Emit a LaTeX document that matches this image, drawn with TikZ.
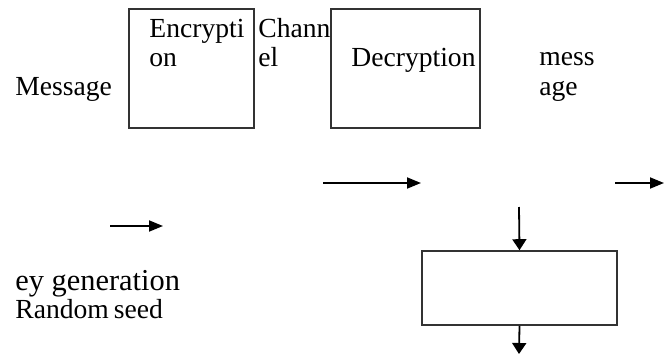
\documentclass[tikz,border=0pt]{standalone}
\usepackage{fontspec}
\setmainfont{Liberation Serif}
\usetikzlibrary{arrows.meta}
\begin{document}
\begin{tikzpicture}[x=0.5pt,y=-0.5pt,
  txt/.style={anchor=base west,inner sep=0pt,font=\fontsize{13.8}{15}\selectfont},
  blk/.style={draw=black!80,line width=0.8pt,inner sep=0pt},
  arr/.style={line width=0.9pt,-{Triangle[length=7pt,width=5.5pt]}},
  varr/.style={line width=0.9pt,-{Triangle[length=5.5pt,width=7pt]}}]
\useasboundingbox (0,0) rectangle (669,354);
% boxes
\node[blk,minimum width=62.5pt,minimum height=59.5pt] (enc) at (191.5,68.5) {};
\node[blk,minimum width=74.5pt,minimum height=59.5pt] (dec) at (405.5,68.5) {};
\node[blk,minimum width=97.5pt,minimum height=37pt] (key) at (519.5,288) {};
% texts
\node[txt] (msg) at (15,95) {Message};
\node[txt] (enc1) at (149,37) {Encrypti};
\node[txt] (enc2) at (149,66) {on};
\node[txt] (ch1) at (258,37) {Chann};
\node[txt] (ch2) at (258,66) {el};
\node[txt] (dect) at (351,66) {Decryption};
\node[txt] (out1) at (539,65) {mess};
\node[txt] (out2) at (539,95) {age};
\node[txt,font=\fontsize{15.2}{16}\selectfont] (kg) at (15,290) {ey generation};
\node[txt] (rs) at (15,318) {Random\hspace{-1pt} seed};
% arrows
\coordinate (a1s) at (323,183); \coordinate (a1e) at (421,183);
\coordinate (a2s) at (615,183); \coordinate (a2e) at (664,183);
\coordinate (a3s) at (110,226); \coordinate (a3e) at (163,226);
\coordinate (a4s) at (519,207);
\coordinate (a5e) at (519,354);
\draw[arr] (a1s) -- (a1e);
\draw[arr] (a2s) -- (a2e);
\draw[arr] (a3s) -- (a3e);
\draw[varr] (a4s) -- (key.north);
\draw[varr] (key.south) -- (a5e);
\end{tikzpicture}
\end{document}
